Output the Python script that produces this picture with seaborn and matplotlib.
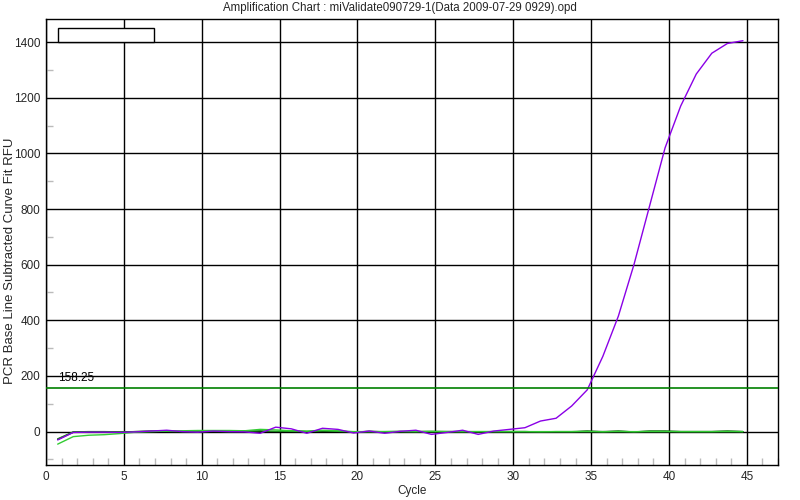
import numpy as np
import pandas as pd
import matplotlib
matplotlib.use("Agg")
import matplotlib.pyplot as plt
from matplotlib.patches import Rectangle
from matplotlib.ticker import MultipleLocator
import seaborn as sns

# ---- data ----
cycles = [c - 0.25 for c in range(1, 46)]

purple = [-30, -3, -2, -2, -3, -1, 2, 5, 0, -2,
          2, 0, -1, -6, 16, 10, -6, 12, 8, -5,
          2, -6, 1, 5, -10, -3, 5, -10, 2, 8,
          14, 38, 48, 92, 150, 270, 415, 600, 810, 1020,
          1170, 1285, 1360, 1395, 1405]

light_green = [-45, -18, -13, -11, -7, -2, 0, 2, 3, 4,
               4, 4, 3, 8, 6, 3, 2, 5, 3, 0,
               0, 0, 0, 0, 0, 0, 0, 0, 0, 0,
               0, 0, 0, 0, 0, 0, 0, 0, 0, 0,
               0, 0, 0, 0, 0]

black = [-28, -2, -1, -1, -2, 0, 1, 1, 0, -1,
         0, -1, 2, 0, -2, 2, 0, 0, 0, -2,
         1, -1, 0, 0, 0, 0, 0, -1, 0, 0,
         0, -1, -1, -1, 1, 0, 1, -1, 1, 1,
         0, 0, 0, 1, 0]

dark_green = [-26, -1, 0, 0, -1, 0, 2, 1, 0, 0,
              1, 0, 1, 3, 1, 1, 0, 2, 1, -1,
              0, 0, 1, 0, 1, 0, 0, 0, 0, 0,
              0, -1, 0, 0, 2, -1, 2, -1, 2, 2,
              0, 0, 0, 2, 0]

threshold = 158.25
title = "Amplification Chart : miValidate090729-1(Data 2009-07-29 0929).opd"
xlabel = "Cycle"
ylabel = "PCR Base Line Subtracted Curve Fit RFU"

series = {"black": black, "dark_green": dark_green,
          "light_green": light_green, "purple": purple}
palette = {"black": "#000000", "dark_green": "#1a8a1a",
           "light_green": "#33cc33", "purple": "#8a00e6"}

df = pd.concat([pd.DataFrame({"cycle": cycles, "rfu": v, "well": k})
                for k, v in series.items()], ignore_index=True)

# ---- plot ----
sns.set_style("white")
plt.rcParams["font.family"] = ["Liberation Sans", "DejaVu Sans"]

fig = plt.figure(figsize=(8, 5), dpi=100)
ax = fig.add_axes([46 / 800, 1 - 465 / 500, (778 - 46) / 800, (465 - 19) / 500])

sns.lineplot(data=df, x="cycle", y="rfu", hue="well", palette=palette,
             linewidth=1.0, legend=False, ax=ax, sort=False)

ax.axhline(threshold, color="#008000", linewidth=1.2, zorder=3)
ax.text(0.75, threshold + 12, f"{threshold:.2f}", fontsize=8.5,
        color="black", ha="left", va="bottom")

ax.set_xlim(0, 47)
ax.set_ylim(-120, 1483)
ax.xaxis.set_major_locator(MultipleLocator(5))
ax.yaxis.set_major_locator(MultipleLocator(200))
ax.xaxis.set_minor_locator(MultipleLocator(1))
ax.yaxis.set_minor_locator(MultipleLocator(100))

ax.grid(True, which="major", color="black", linewidth=1.0)
ax.set_axisbelow(True)
ax.tick_params(axis="both", which="major", labelsize=8.5, length=2.5,
               color="black", direction="out", pad=1.5)
ax.tick_params(axis="x", which="major", length=0, pad=4)
ax.tick_params(axis="both", which="minor", length=5, color="#bbbbbb",
               direction="in", width=1)
ax.tick_params(axis="x", which="minor", top=False, bottom=True)
ax.tick_params(axis="y", which="minor", right=False, left=True)

for s in ax.spines.values():
    s.set_color("black")
    s.set_linewidth(1.0)

ax.set_xlabel(xlabel, fontsize=8.5, labelpad=2)
ax.set_ylabel("")
fig.text(10 / 800, 1 - 261 / 500, ylabel, fontsize=9.5, rotation=90,
         ha="center", va="center")
fig.suptitle(title, fontsize=8.3, y=0.997, va="top", x=0.5)

# empty legend box
ax.add_patch(Rectangle((0.77, 1401), 6.16, 50, facecolor="white",
                       edgecolor="black", linewidth=1.0, zorder=4))

fig.savefig("out.png", dpi=100)
